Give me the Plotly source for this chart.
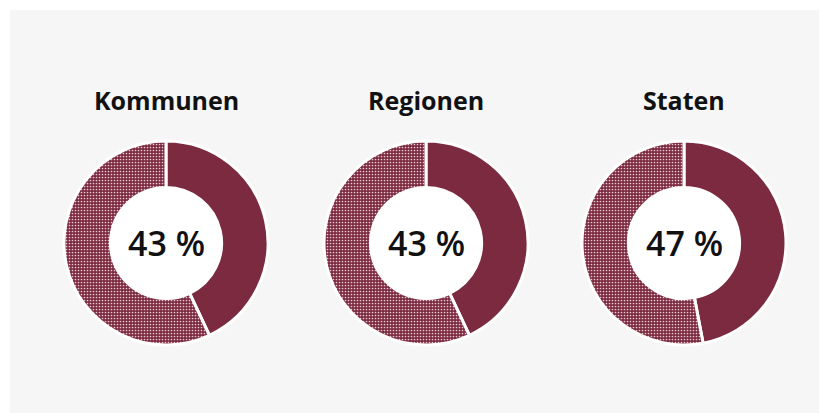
import plotly.graph_objects as go

categories = ["Kommunen", "Regionen", "Staten"]
shares = [43, 43, 47]
rest = [100 - v for v in shares]
center_labels = ["43 %", "43 %", "47 %"]

W, H = 827, 413
MAROON = "#7b2a3f"
BG = "#f6f6f6"

centers_x = [158, 418, 676]
cy = 235
R = 102

fig = go.Figure()
shapes = [dict(type="rect", xref="paper", yref="paper",
               x0=2 / W, x1=1, y0=0, y1=1 - 2 / H,
               fillcolor=BG, line=dict(width=0), layer="below")]
annotations = []
for i, cat in enumerate(categories):
    cx = centers_x[i]
    fig.add_trace(go.Pie(
        values=[shares[i], rest[i]],
        labels=["Anteil", "Rest"],
        sort=False,
        direction="clockwise",
        rotation=0,
        hole=0.545,
        textinfo="none",
        hoverinfo="label+value",
        showlegend=False,
        marker=dict(
            colors=[MAROON, MAROON],
            line=dict(color="white", width=3),
            pattern=dict(shape=["", "."], fgcolor="#e8c8d2", bgcolor=MAROON,
                         size=3, solidity=0.25, fillmode="replace"),
        ),
        domain=dict(x=[(cx - R) / W, (cx + R) / W],
                    y=[(H - cy - R) / H, (H - cy + R) / H]),
    ))
    shapes.append(dict(type="circle", xref="paper", yref="paper",
                       xsizemode="pixel", ysizemode="pixel",
                       xanchor=cx / W, yanchor=(H - cy) / H,
                       x0=-57, x1=57, y0=-57, y1=57,
                       fillcolor="white", line=dict(width=0), layer="below"))
    annotations.append(dict(x=cx / W, y=(H - cy) / H, xref="paper", yref="paper",
                            xanchor="center", yanchor="middle",
                            text=center_labels[i], showarrow=False,
                            font=dict(family="Open Sans", size=34, color="#111111",
                                      weight=600)))
    annotations.append(dict(x=cx / W, y=(H - 92) / H, xref="paper", yref="paper",
                            xanchor="center", yanchor="middle",
                            text="<b>" + cat + "</b>", showarrow=False,
                            font=dict(family="Open Sans", size=25, color="#111111")))

fig.update_layout(
    width=W, height=H,
    margin=dict(l=0, r=0, t=0, b=0),
    paper_bgcolor="white", plot_bgcolor=BG,
    shapes=shapes, annotations=annotations,
)
fig.write_html("out.html")
